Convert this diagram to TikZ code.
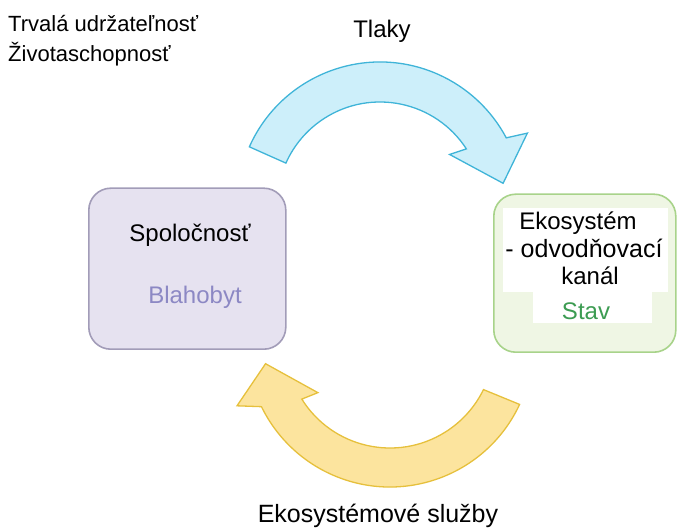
\documentclass[tikz,border=0pt]{standalone}
\usepackage{fontspec}
\setmainfont{Liberation Sans}
\usetikzlibrary{calc}
\definecolor{bluefill}{HTML}{CDEFFA}
\definecolor{blueline}{HTML}{3FB4D8}
\definecolor{yelfill}{HTML}{FCE49E}
\definecolor{yelline}{HTML}{E6C03C}
\definecolor{lavfill}{HTML}{E6E2F0}
\definecolor{lavline}{HTML}{A29CB8}
\definecolor{grnfill}{HTML}{EFF6E4}
\definecolor{grnline}{HTML}{A8D38A}
\definecolor{blahcol}{HTML}{8C88C4}
\definecolor{stavcol}{HTML}{3C9C52}
\begin{document}
\begin{tikzpicture}[x=1pt,y=1pt,
  txt/.style={font=\fontsize{24}{28}\selectfont, inner sep=0pt, anchor=base},
  boxshape/.style={rounded corners=22pt, line width=1.6pt},
  arrowshape/.style={line width=1.3pt, line join=miter}]
\useasboundingbox (0,0) rectangle (680,530);
% boxes
\node[boxshape, draw=lavline, fill=lavfill, minimum width=197pt, minimum height=161pt, anchor=south west] (soc) at (88,180) {};
\node[boxshape, draw=grnline, fill=grnfill, minimum width=182pt, minimum height=158pt, anchor=south west] (eko) at (493,177) {};
% white patches in the right box
\fill[white] (503,238) rectangle (668,322);
\fill[white] (533,207) rectangle (652,238);
% arrows
\coordinate (ct) at (380,325);
\coordinate (cb) at (390,186);
\draw[arrowshape, draw=blueline, fill=bluefill]
  ($(ct)+(156:143pt)$) arc[start angle=156, end angle=28, radius=143pt]
  -- ($(ct)+(26:164pt)$) -- ($(ct)+(10:125pt)$) -- ($(ct)+(36:86pt)$)
  -- ($(ct)+(33:103pt)$) arc[start angle=33, end angle=156, radius=103pt] -- cycle;
\draw[arrowshape, draw=yelline, fill=yelfill]
  ($(cb)+(-25:143pt)$) arc[start angle=-25, end angle=-154, radius=143pt]
  -- ($(cb)+(-158:165pt)$) -- ($(cb)+(-171:126pt)$) -- ($(cb)+(-146:87pt)$)
  -- ($(cb)+(-148:104pt)$) arc[start angle=-148, end angle=-26, radius=104pt] -- cycle;
% texts
\node[txt, font=\fontsize{22}{26}\selectfont, anchor=base west] (t1) at (8,498) {Trvalá udržateľnosť};
\node[txt, font=\fontsize{22}{26}\selectfont, anchor=base west] (t2) at (8,468) {Životaschopnosť};
\node[txt] (tlaky) at (382,492) {Tlaky};
\node[txt, font=\fontsize{25}{29}\selectfont] (es) at (378,7) {Ekosystémové služby};
\node[txt] (spol) at (190,288) {Spoločnosť};
\node[txt, text=blahcol] (blah) at (195,226) {Blahobyt};
\node[txt] (e1) at (578,300) {Ekosystém};
\node[txt, font=\fontsize{25}{29}\selectfont] (e2) at (584,272) {- odvodňovací};
\node[txt] (e3) at (590,245) {kanál};
\node[txt, text=stavcol] (stav) at (586,210) {Stav};
\end{tikzpicture}
\end{document}
